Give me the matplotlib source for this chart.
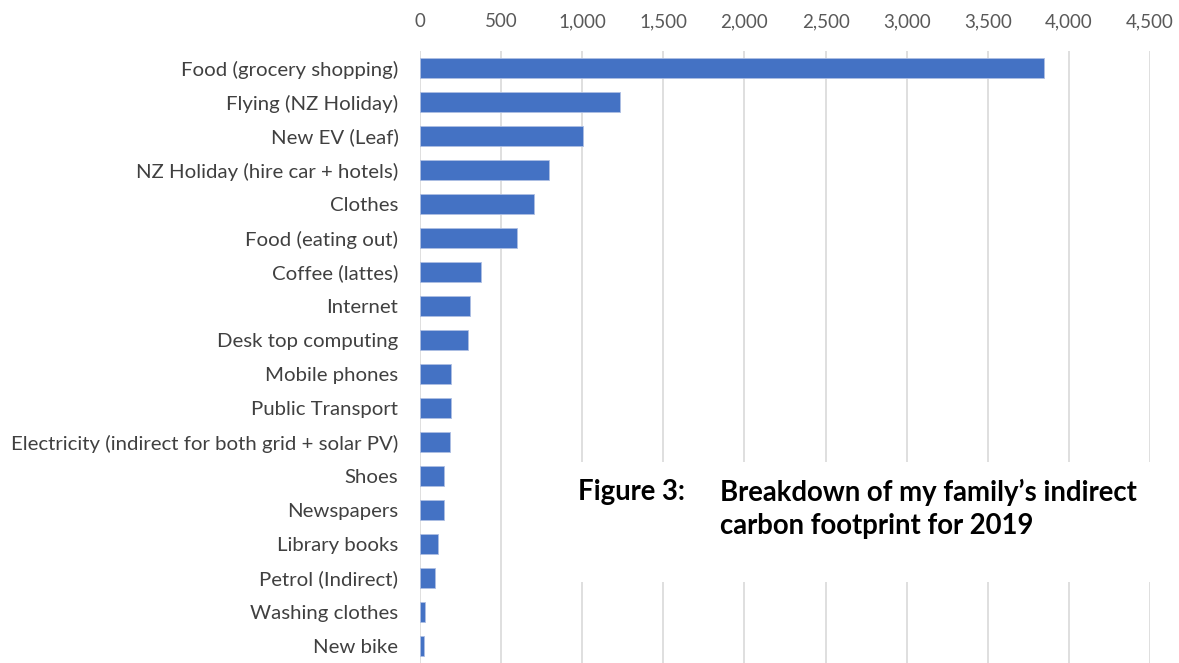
import matplotlib.pyplot as plt

# indirect carbon footprint by item, 2019
categories = [
    "Food (grocery shopping)", "Flying (NZ Holiday)", "New EV (Leaf)",
    "NZ Holiday (hire car + hotels)", "Clothes", "Food (eating out)",
    "Coffee (lattes)", "Internet", "Desk top computing", "Mobile phones",
    "Public Transport", "Electricity (indirect for both grid + solar PV)",
    "Shoes", "Newspapers", "Library books", "Petrol (Indirect)",
    "Washing clothes", "New bike",
]
values = [3846, 1232, 1002, 795, 700, 598, 377, 306, 296, 193, 193, 183,
          148, 148, 113, 90, 33, 22]
x_ticks = list(range(0, 4501, 500))

plt.rcParams['font.family'] = ['Lato', 'DejaVu Sans']

fig = plt.figure(figsize=(11.79, 6.63), dpi=100)
ax = fig.add_axes([420 / 1179, 0.0, 730 / 1179, 612 / 663])

ypos = range(len(categories))
ax.barh(ypos, values, height=0.56, color='#4472C4', edgecolor='#aebfe3',
        linewidth=0.6, zorder=3)

ax.set_xlim(0, 4500)
ax.set_ylim(len(categories) - 0.5, -0.5)
ax.set_xticks(x_ticks)
ax.set_xticklabels([f"{t:,}" for t in x_ticks])
ax.xaxis.tick_top()
ax.set_yticks(list(ypos))
ax.set_yticklabels(categories)
ax.tick_params(axis='x', length=0, pad=15, labelsize=13.5, labelcolor='#595959')
ax.tick_params(axis='y', length=0, pad=15.5, labelsize=14.7, labelcolor='#404040')
ax.xaxis.grid(True, color='#d9d9d9', linewidth=1.2, zorder=0)
for s in ax.spines.values():
    s.set_visible(False)

# caption sits inside the plot on a white patch over the gridlines
fig.patches.append(plt.Rectangle((540 / 1179, 1 - 582 / 663), 620 / 1179, 120 / 663,
                                 transform=fig.transFigure, facecolor='white',
                                 edgecolor='none', zorder=5))
fig.text(578 / 1179, 1 - 492 / 663, "Figure 3:", fontsize=19.8, fontweight='bold',
         va='center', ha='left', zorder=6)
fig.text(720 / 1179, 1 - 492 / 663, "Breakdown of my family\u2019s indirect",
         fontsize=19.8, fontweight='bold', va='center', ha='left', zorder=6)
fig.text(720 / 1179, 1 - 526 / 663, "carbon footprint for 2019",
         fontsize=19.8, fontweight='bold', va='center', ha='left', zorder=6)

fig.savefig("out.png", dpi=100)
